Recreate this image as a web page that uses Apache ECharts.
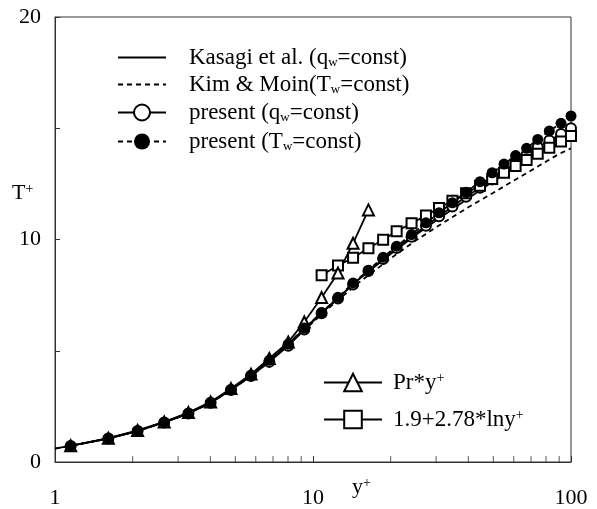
<!DOCTYPE html>
<html>
<head>
<meta charset="utf-8">
<script src="https://cdn.jsdelivr.net/npm/echarts@6/dist/echarts.min.js"></script>
<style>
  html, body { margin: 0; padding: 0; background: #fff; }
  #chart { width: 597px; height: 509px; }
</style>
</head>
<body>
<div id="chart"></div>
<script>
// grid points of the present DNS (y+)
const yPlus = [1.15, 1.61, 2.09, 2.65, 3.29, 4.01, 4.81, 5.75, 6.77, 8.02, 9.25, 10.8, 12.5, 14.3, 16.4, 18.7, 21.1, 24.1, 27.4, 30.8, 34.7, 39.2, 44.4, 49.5, 55.0, 61.0, 67.3, 74.3, 82.4, 91.5, 100];
const tPresentQw = [0.72, 1.06, 1.39, 1.78, 2.18, 2.66, 3.24, 3.86, 4.50, 5.22, 5.95, 6.68, 7.35, 7.98, 8.58, 9.12, 9.62, 10.12, 10.62, 11.05, 11.48, 11.92, 12.33, 12.70, 13.06, 13.45, 13.82, 14.15, 14.45, 14.74, 15.00];
const tPresentTw = [0.72, 1.06, 1.39, 1.78, 2.18, 2.66, 3.26, 3.90, 4.57, 5.30, 6.02, 6.72, 7.40, 8.05, 8.62, 9.20, 9.70, 10.22, 10.75, 11.20, 11.65, 12.12, 12.60, 13.00, 13.39, 13.77, 14.10, 14.50, 14.88, 15.22, 15.55];

// reference DNS curves
const refX = [1, 1.5, 2, 3, 4, 5, 6, 7, 8, 10, 12, 15, 20, 25, 30, 40, 50, 60, 70, 80, 90, 100];
const tKasagi = [0.6, 0.98, 1.33, 2.0, 2.65, 3.38, 4.05, 4.7, 5.3, 6.35, 7.2, 8.2, 9.35, 10.2, 10.85, 11.85, 12.62, 13.25, 13.78, 14.22, 14.6, 14.9];
const tKimMoin = [0.6, 0.98, 1.33, 2.0, 2.65, 3.36, 4.02, 4.66, 5.25, 6.28, 7.1, 8.05, 9.15, 9.95, 10.55, 11.45, 12.1, 12.65, 13.1, 13.5, 13.85, 14.1];

// Pr*y+ and log law
const linearX = [1.15, 1.61, 2.09, 2.65, 3.29, 4.01, 4.81, 5.75, 6.77, 8.02, 9.25, 10.8, 12.5, 14.3, 16.4];
const tLinear = [0.73, 1.07, 1.42, 1.80, 2.22, 2.70, 3.30, 3.95, 4.65, 5.39, 6.29, 7.39, 8.49, 9.83, 11.33];
const logX = [10.8, 12.5, 14.3, 16.4, 18.7, 21.1, 24.1, 27.4, 30.8, 34.7, 39.2, 44.4, 49.5, 55.0, 61.0, 67.3, 74.3, 82.4, 91.5, 100];
const tLog = [8.39, 8.83, 9.18, 9.61, 9.99, 10.37, 10.73, 11.08, 11.42, 11.74, 12.08, 12.42, 12.72, 13.00, 13.30, 13.57, 13.85, 14.12, 14.40, 14.65];

// x minor ticks (log axis draws only decades)
const minorTicks = [2, 3, 4, 5, 6, 7, 8, 9, 20, 30, 40, 50, 60, 70, 80, 90];

const serif = '"Liberation Serif", "DejaVu Serif", serif';
const zip = (xs, ys) => xs.map((x, i) => [x, ys[i]]);

const names = {
    kasagi: 'Kasagi et al. (qw=const)',
    kim: 'Kim & Moin(Tw=const)',
    qw: 'present (qw=const)',
    tw: 'present (Tw=const)',
    lin: 'Pr*y+',
    log: '1.9+2.78*lny+'
};
const richNames = {};
richNames[names.kasagi] = '{t|Kasagi et al. (q}{s|w}{t|=const)}';
richNames[names.kim] = '{t|Kim & Moin(T}{s|w}{t|=const)}';
richNames[names.qw] = '{t|present (q}{s|w}{t|=const)}';
richNames[names.tw] = '{t|present (T}{s|w}{t|=const)}';
richNames[names.lin] = '{t|Pr*y}{p|+}';
richNames[names.log] = '{t|1.9+2.78*lny}{p|+}';

const rich = {
    t: { fontFamily: serif, fontSize: 23, color: '#000' },
    s: { fontFamily: serif, fontSize: 13, color: '#000', verticalAlign: 'bottom' },
    p: { fontFamily: serif, fontSize: 14, color: '#000', verticalAlign: 'top' }
};

function legendRow(name, left, top, opts) {
    return Object.assign({
        data: [name],
        left: left,
        top: top,
        padding: 0,
        itemWidth: 48,
        itemHeight: 20,
        selectedMode: false,
        formatter: n => richNames[n],
        textStyle: { rich: rich, padding: [0, 0, 0, 18] }
    }, opts || {});
}

const chart = echarts.init(document.getElementById('chart'));

chart.setOption({
    backgroundColor: '#fff',
    animation: false,
    grid: { left: 55, right: 26, top: 17, bottom: 46, show: true, borderColor: '#333', borderWidth: 1 },
    legend: [
        legendRow({ name: names.kasagi, itemStyle: { opacity: 0 } }, 117, 46),
        legendRow({ name: names.kim, itemStyle: { opacity: 0 } }, 117, 73),
        legendRow(names.qw, 117, 101),
        legendRow(names.tw, 117, 130),
        legendRow(names.lin, 323, 371, { itemWidth: 58, itemHeight: 22, textStyle: { rich: rich, padding: [0, 0, 0, 6] } }),
        legendRow(names.log, 323, 408, { itemWidth: 58, itemHeight: 22, textStyle: { rich: rich, padding: [0, 0, 0, 6] } })
    ],
    xAxis: {
        type: 'log',
        logBase: 10,
        min: 1,
        max: 100,
        axisLine: { lineStyle: { color: '#333', width: 1 } },
        axisTick: { inside: true, length: 6, lineStyle: { color: '#333' } },
        axisLabel: { fontFamily: serif, fontSize: 22, color: '#000', margin: 25 },
        splitLine: { show: false }
    },
    yAxis: {
        type: 'value',
        min: 0,
        max: 20,
        interval: 5,
        axisLine: { show: true, lineStyle: { color: '#333', width: 1 } },
        axisTick: { show: true, inside: true, length: 5, lineStyle: { color: '#333' } },
        axisLabel: {
            fontFamily: serif, fontSize: 22, color: '#000', margin: 14,
            formatter: v => (v % 10 === 0 ? String(v) : '')
        },
        splitLine: { show: false }
    },
    graphic: [
        {
            type: 'text', left: 12, top: 182,
            style: { text: '{b|T}{p|+}', rich: { b: { fontFamily: serif, fontSize: 22, fill: '#000' }, p: { fontFamily: serif, fontSize: 14, fill: '#000', verticalAlign: 'top' } } }
        },
        {
            type: 'text', left: 352, top: 476,
            style: { text: '{b|y}{p|+}', rich: { b: { fontFamily: serif, fontSize: 22, fill: '#000' }, p: { fontFamily: serif, fontSize: 14, fill: '#000', verticalAlign: 'top' } } }
        }
    ],
    series: [
        {
            name: names.kasagi, type: 'line', symbol: 'none',
            lineStyle: { color: '#000', width: 1.8 },
            itemStyle: { color: '#000' },
            data: zip(refX, tKasagi)
        },
        {
            name: names.kim, type: 'line', symbol: 'none',
            lineStyle: { color: '#000', width: 1.8, type: [5, 4] },
            itemStyle: { color: '#000' },
            data: zip(refX, tKimMoin)
        },
        {
            name: names.qw, type: 'line', symbol: 'emptyCircle', symbolSize: 10,
            lineStyle: { color: '#000', width: 1.8 },
            itemStyle: { color: '#000', borderColor: '#000', borderWidth: 1.4 },
            data: zip(yPlus, tPresentQw)
        },
        {
            name: names.log, type: 'line', symbol: 'emptyRect', symbolSize: 10,
            lineStyle: { color: '#000', width: 1.8 },
            itemStyle: { color: '#000', borderColor: '#000', borderWidth: 1.6 },
            data: zip(logX, tLog)
        },
        {
            name: names.lin, type: 'line', symbol: 'emptyTriangle', symbolSize: 11,
            lineStyle: { color: '#000', width: 1.8 },
            itemStyle: { color: '#000', borderColor: '#000', borderWidth: 1.6 },
            data: zip(linearX, tLinear)
        },
        {
            name: names.tw, type: 'line', symbol: 'circle', symbolSize: 11,
            lineStyle: { color: '#000', width: 1.8, type: [5, 4] },
            itemStyle: { color: '#000' },
            data: zip(yPlus, tPresentTw)
        },
        {
            // minor ticks on the x axis
            type: 'scatter', silent: true, symbol: 'rect',
            symbolSize: [1, 6], symbolOffset: [0, -3],
            itemStyle: { color: '#333' },
            data: minorTicks.map(v => [v, 0])
        }
    ]
});
</script>
</body>
</html>
